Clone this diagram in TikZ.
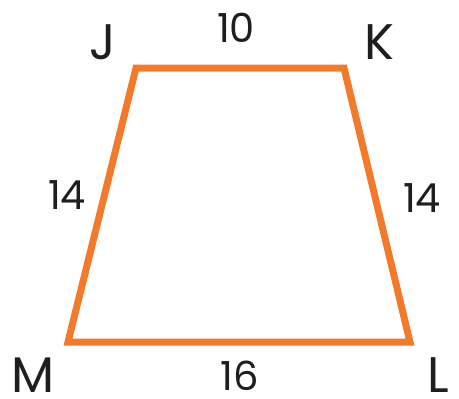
\documentclass[tikz,border=0pt]{standalone}
\usepackage{fontspec}
\setmainfont{Poppins}
\definecolor{trap}{HTML}{F47A2B}
\definecolor{lab}{HTML}{1E1E1E}
\begin{document}
\begin{tikzpicture}[x=1pt,y=-1pt,
  vert/.style={inner sep=0pt,text=lab,font=\fontsize{50}{50}\selectfont},
  side/.style={inner sep=0pt,text=lab,font=\fontsize{40}{40}\selectfont}]
\useasboundingbox (0,0) rectangle (459,399);
\coordinate (J) at (136,68);
\coordinate (K) at (344,68);
\coordinate (L) at (410,342);
\coordinate (M) at (68,342);
\draw[trap,line width=7pt,line join=miter] (J) -- (K) -- (L) -- (M) -- cycle;
\node[vert] (lJ) at (103,42) {J};
\node[vert] (lK) at (379,42) {K};
\node[vert] (lM) at (33,375) {M};
\node[vert] (lL) at (438,375) {L};
\node[side] (s10) at (236,28) {10};
\node[side] (s14a) at (67,195) {14};
\node[side] (s14b) at (422,198) {14};
\node[side] (s16) at (240,376) {16};
\end{tikzpicture}
\end{document}
